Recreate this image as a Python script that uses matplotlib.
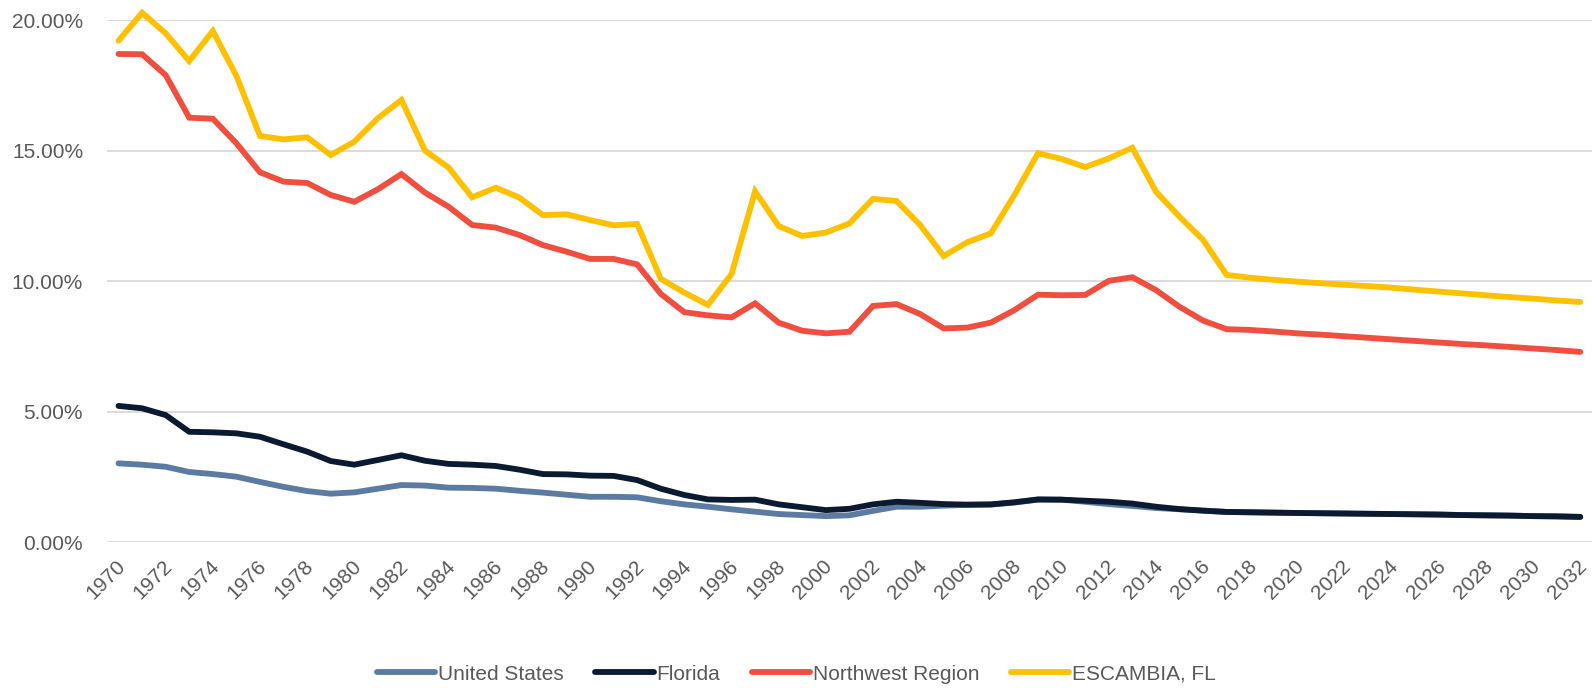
import numpy as np
import matplotlib
matplotlib.use("Agg")
import matplotlib.pyplot as plt
import matplotlib.transforms as mtrans
from matplotlib.ticker import FuncFormatter, MultipleLocator

plt.rcParams['font.family'] = ['Liberation Sans Narrow', 'Liberation Sans', 'DejaVu Sans']

years = list(range(1970, 2033))

united_states = [3.03, 2.98, 2.90, 2.70, 2.62, 2.52, 2.32, 2.13, 1.97, 1.87,
                 1.92, 2.06, 2.20, 2.18, 2.10, 2.09, 2.06, 1.98, 1.91, 1.83,
                 1.75, 1.75, 1.73, 1.58, 1.46, 1.37, 1.27, 1.18, 1.09, 1.05,
                 1.01, 1.04, 1.21, 1.37, 1.37, 1.41, 1.44, 1.45, 1.53, 1.64,
                 1.64, 1.56, 1.47, 1.40, 1.32, 1.27, 1.22, 1.17, 1.15, 1.14,
                 1.13, 1.12, 1.11, 1.10, 1.09, 1.08, 1.07, 1.05, 1.04, 1.03,
                 1.01, 1.00, 0.98]

florida = [5.23, 5.14, 4.88, 4.24, 4.22, 4.18, 4.05, 3.76, 3.48, 3.12,
           2.98, 3.16, 3.34, 3.13, 3.01, 2.98, 2.93, 2.79, 2.62, 2.61,
           2.56, 2.55, 2.39, 2.06, 1.82, 1.65, 1.63, 1.64, 1.46, 1.35,
           1.24, 1.29, 1.46, 1.56, 1.52, 1.47, 1.45, 1.46, 1.54, 1.65,
           1.64, 1.60, 1.56, 1.49, 1.37, 1.28, 1.22, 1.17, 1.16, 1.145,
           1.13, 1.12, 1.11, 1.10, 1.09, 1.08, 1.07, 1.05, 1.04, 1.03,
           1.01, 1.00, 0.98]

northwest = [18.71, 18.70, 17.90, 16.27, 16.23, 15.29, 14.18, 13.82, 13.77, 13.31,
             13.05, 13.53, 14.11, 13.40, 12.86, 12.16, 12.06, 11.78, 11.39, 11.14,
             10.86, 10.86, 10.65, 9.52, 8.82, 8.70, 8.62, 9.16, 8.42, 8.11,
             8.01, 8.07, 9.06, 9.13, 8.75, 8.20, 8.23, 8.42, 8.90, 9.49,
             9.47, 9.48, 10.02, 10.16, 9.67, 9.03, 8.50, 8.17, 8.14, 8.08,
             8.01, 7.96, 7.90, 7.84, 7.78, 7.72, 7.66, 7.60, 7.55, 7.49,
             7.43, 7.37, 7.30]

escambia = [19.22, 20.29, 19.50, 18.44, 19.59, 17.87, 15.57, 15.44, 15.52, 14.84,
            15.35, 16.25, 16.95, 15.01, 14.36, 13.22, 13.59, 13.21, 12.54, 12.57,
            12.35, 12.15, 12.20, 10.10, 9.57, 9.10, 10.28, 13.45, 12.12, 11.74,
            11.87, 12.22, 13.16, 13.08, 12.16, 10.97, 11.50, 11.84, 13.31, 14.91,
            14.69, 14.38, 14.71, 15.12, 13.44, 12.48, 11.59, 10.25, 10.14, 10.06,
            9.99, 9.93, 9.87, 9.82, 9.76, 9.68, 9.61, 9.54, 9.47, 9.40,
            9.34, 9.27, 9.21]

series = [("United States", united_states, "#5B7BA3"),
          ("Florida", florida, "#0B1A30"),
          ("Northwest Region", northwest, "#F04E3E"),
          ("ESCAMBIA, FL", escambia, "#FFC000")]

fig = plt.figure(figsize=(15.93, 6.88), dpi=100)
ax = fig.add_axes([0.067, 0.2115, 0.9324, 0.759])

x = np.arange(len(years))
for name, vals, col in series:
    ax.plot(x, np.array(vals) / 100, color=col, lw=4.2, label=name,
            solid_capstyle='round', solid_joinstyle='miter', clip_on=False)

ax.set_xlim(-0.5, len(years) - 0.5)
ax.set_ylim(0, 0.20)
ax.yaxis.set_major_locator(MultipleLocator(0.05))
ax.yaxis.set_major_formatter(FuncFormatter(lambda v, p: f"{v * 100:.2f}%"))
ax.grid(axis='y', color='#D9D9D9', lw=1.3)
ax.set_axisbelow(True)
for s in ax.spines.values():
    s.set_visible(False)

ax.set_xticks(x[::2])
ax.set_xticklabels([str(y) for y in years[::2]], rotation=45, ha='right',
                   rotation_mode='anchor')
ax.tick_params(axis='both', length=0, labelsize=15, colors='#595959')
ax.tick_params(axis='y', pad=17)
ax.tick_params(axis='x', pad=10)

# nudge the rotated year labels a little left
shift = mtrans.ScaledTranslation(-3 / 100, 0, fig.dpi_scale_trans)
for lbl in ax.get_xticklabels():
    lbl.set_transform(lbl.get_transform() + shift)

leg = fig.legend(loc='center', bbox_to_anchor=(0.5, 0.02), ncol=4, frameon=False,
                 fontsize=15, handlelength=2.8, handletextpad=0.15, columnspacing=1.5)
for t in leg.get_texts():
    t.set_color('#595959')

fig.savefig("out.png", dpi=100)
